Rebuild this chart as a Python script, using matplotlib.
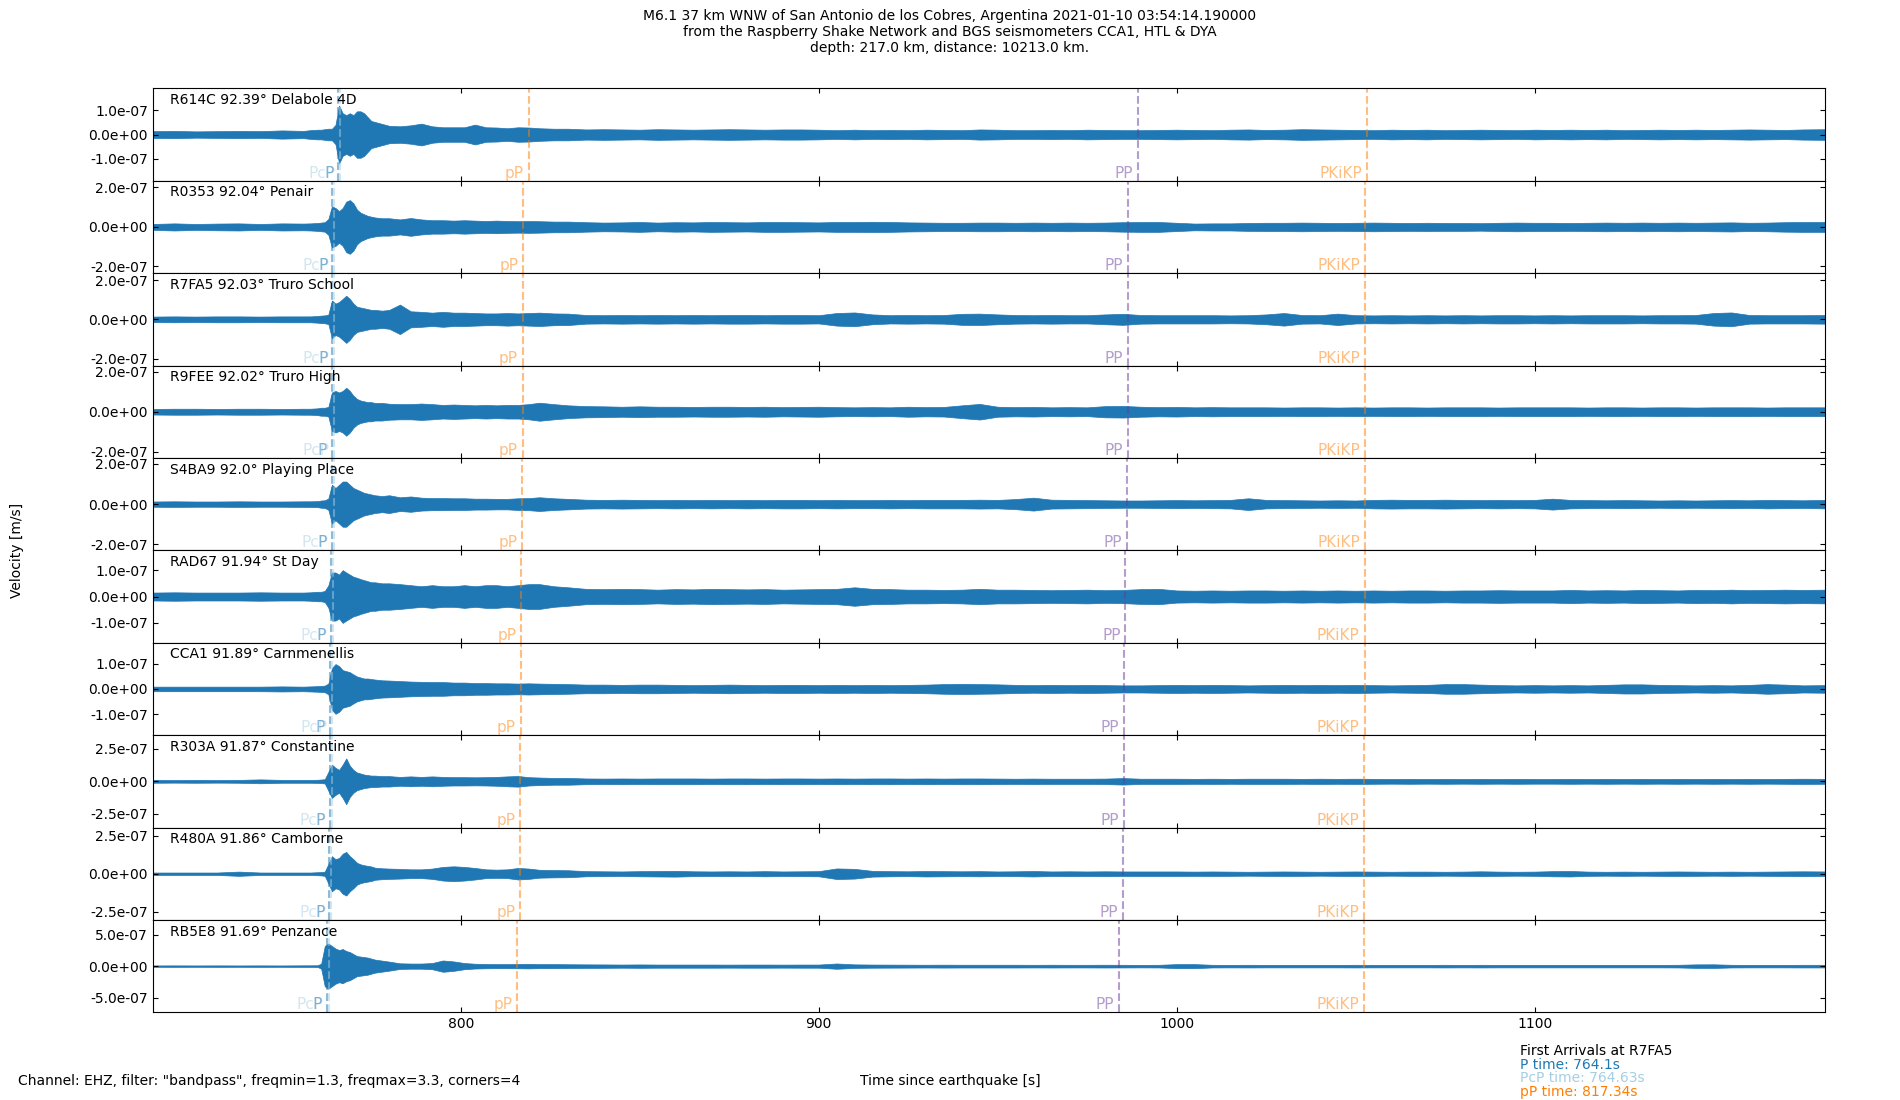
import numpy as np
import matplotlib
matplotlib.use("Agg")
import matplotlib.pyplot as plt
from matplotlib import transforms
from matplotlib.ticker import FormatStrFormatter

# ------------- chart data ------------------------------------------
title = ("M6.1 37 km WNW of San Antonio de los Cobres, Argentina 2021-01-10 03:54:14.190000\n"
         "from the Raspberry Shake Network and BGS seismometers CCA1, HTL & DYA\n"
         "depth: 217.0 km, distance: 10213.0 km.")
footer = 'Channel: EHZ, filter: "bandpass", freqmin=1.3, freqmax=3.3, corners=4'

stations = ["R614C", "R0353", "R7FA5", "R9FEE", "S4BA9",
            "RAD67", "CCA1", "R303A", "R480A", "RB5E8"]
distances = [92.39, 92.04, 92.03, 92.02, 92.0, 91.94, 91.89, 91.87, 91.86, 91.69]
places = ["Delabole 4D", "Penair", "Truro School", "Truro High", "Playing Place",
          "St Day", "Carnmenellis", "Constantine", "Camborne", "Penzance"]

# arrival times [s] per station
p_times = [765.76, 764.15, 764.1, 764.05, 763.96, 763.69, 763.46, 763.36, 763.32, 762.54]
pcp_times = [766.29, 764.68, 764.63, 764.58, 764.49, 764.22, 763.99, 763.89, 763.85, 763.07]
pP_times = [819.0, 817.39, 817.34, 817.29, 817.2, 816.93, 816.7, 816.6, 816.56, 815.78]
PP_times = [989.2, 986.5, 986.4, 986.3, 986.2, 985.7, 985.3, 985.2, 985.1, 983.8]
pkikp_times = [1053.2, 1052.7, 1052.6, 1052.6, 1052.6, 1052.5, 1052.5, 1052.4, 1052.4, 1052.3]

# y limits and tick values, in 1e-7 m/s
ylims = [1.91, 2.34, 2.35, 2.31, 2.29, 1.75, 1.82, 3.55, 3.05, 7.35]
ytick_vals = [1.0, 2.0, 2.0, 2.0, 2.0, 1.0, 1.0, 2.5, 2.5, 5.0]

# sample times [s] of the amplitude envelopes
t_grid = [714, 720, 726, 732, 738, 744, 750, 756,
          758, 760, 761, 762, 763, 764, 765, 766, 767, 768, 769, 770, 771, 772, 773, 774, 775, 776,
          778, 780,
          783, 786, 789, 792, 795, 798, 801, 804, 807, 810, 813, 816, 819, 822,
          826, 830,
          835, 840, 845, 850, 855, 860, 865, 870, 875, 880, 885, 890, 895, 900,
          905, 910, 915, 920, 925, 930, 935, 940, 945, 950, 955, 960, 965, 970, 975, 980, 985, 990, 995, 1000,
          1005, 1010, 1015, 1020, 1025, 1030, 1035, 1040, 1045, 1050, 1055, 1060, 1065, 1070, 1075, 1080,
          1085, 1090, 1095, 1100,
          1105, 1110, 1115, 1120, 1125, 1130, 1135, 1140, 1145, 1150, 1155, 1160, 1165, 1170, 1175, 1181]

# half-width of the dense part of each trace, in 1e-7 m/s
amp_R614C = [0.14, 0.15, 0.13, 0.14, 0.15, 0.14, 0.17, 0.15,
             0.18, 0.2, 0.2, 0.22, 0.24, 0.24, 0.4, 1.2, 0.88, 0.8, 0.88, 0.8, 0.96, 0.96, 0.88, 0.72, 0.56, 0.52,
             0.44, 0.36,
             0.34, 0.38, 0.45, 0.34, 0.3, 0.3, 0.3, 0.41, 0.3, 0.29, 0.26, 0.3, 0.29, 0.26,
             0.24, 0.24,
             0.21, 0.22, 0.21, 0.2, 0.22, 0.21, 0.2, 0.21, 0.22, 0.21, 0.2, 0.21, 0.21, 0.2,
             0.18, 0.2, 0.18, 0.19, 0.18, 0.2, 0.19, 0.18, 0.21, 0.2, 0.18, 0.18, 0.19, 0.18, 0.2, 0.19,
             0.18, 0.18, 0.19, 0.2,
             0.19, 0.18, 0.2, 0.21, 0.19, 0.2, 0.22, 0.21, 0.2, 0.19, 0.18, 0.2, 0.19, 0.2, 0.18, 0.19,
             0.2, 0.19, 0.18, 0.2,
             0.19, 0.2, 0.19, 0.2, 0.18, 0.19, 0.2, 0.19, 0.2, 0.19, 0.2, 0.21, 0.2, 0.19, 0.21, 0.22]
amp_R0353 = [0.15, 0.18, 0.15, 0.17, 0.18, 0.15, 0.18, 0.17,
             0.18, 0.2, 0.22, 0.24, 0.4, 1.04, 0.96, 0.8, 0.96, 1.28, 1.36, 1.2, 0.88, 0.72, 0.64, 0.56, 0.52, 0.48,
             0.44, 0.44,
             0.38, 0.45, 0.38, 0.34, 0.34, 0.32, 0.34, 0.32, 0.3, 0.32, 0.3, 0.29, 0.3, 0.29,
             0.27, 0.27,
             0.24, 0.22, 0.23, 0.25, 0.22, 0.24, 0.23, 0.25, 0.24, 0.23, 0.25, 0.25, 0.24, 0.23,
             0.25, 0.25, 0.26, 0.25, 0.23, 0.22, 0.21, 0.21, 0.22, 0.22, 0.21, 0.22, 0.21, 0.22, 0.21, 0.22,
             0.24, 0.25, 0.25, 0.21,
             0.17, 0.18, 0.18, 0.2, 0.21, 0.21, 0.22, 0.21, 0.2, 0.21, 0.22, 0.21, 0.2, 0.21, 0.2, 0.2,
             0.19, 0.21, 0.22, 0.21,
             0.21, 0.2, 0.21, 0.22, 0.21, 0.22, 0.21, 0.22, 0.21, 0.22, 0.23, 0.21, 0.22, 0.24, 0.25, 0.25]
amp_R7FA5 = [0.14, 0.15, 0.14, 0.15, 0.15, 0.14, 0.15, 0.15,
             0.15, 0.17, 0.19, 0.2, 0.24, 0.96, 0.8, 0.88, 1.04, 1.2, 1.04, 0.8, 0.64, 0.6, 0.56, 0.52, 0.48, 0.48,
             0.44, 0.48,
             0.75, 0.41, 0.38, 0.34, 0.38, 0.34, 0.34, 0.32, 0.3, 0.3, 0.32, 0.3, 0.32, 0.34,
             0.3, 0.29,
             0.22, 0.21, 0.22, 0.21, 0.22, 0.21, 0.22, 0.21, 0.22, 0.22, 0.21, 0.22, 0.22, 0.21,
             0.32, 0.35, 0.25, 0.21, 0.22, 0.21, 0.22, 0.28, 0.29, 0.25, 0.22, 0.21, 0.22, 0.21, 0.21, 0.25,
             0.28, 0.22, 0.21, 0.21,
             0.21, 0.21, 0.2, 0.21, 0.25, 0.32, 0.22, 0.21, 0.29, 0.21, 0.2, 0.21, 0.2, 0.21, 0.2, 0.21,
             0.2, 0.21, 0.21, 0.2,
             0.21, 0.2, 0.21, 0.21, 0.21, 0.2, 0.21, 0.21, 0.22, 0.32, 0.35, 0.22, 0.21, 0.21, 0.21, 0.22]
amp_R9FEE = [0.14, 0.15, 0.15, 0.14, 0.15, 0.15, 0.14, 0.15,
             0.15, 0.17, 0.2, 0.2, 0.24, 0.96, 1.04, 0.96, 1.04, 1.2, 1.04, 0.8, 0.64, 0.56, 0.52, 0.48, 0.48, 0.44,
             0.44, 0.4,
             0.38, 0.38, 0.41, 0.38, 0.34, 0.36, 0.34, 0.32, 0.34, 0.32, 0.34, 0.34, 0.38, 0.45,
             0.38, 0.32,
             0.28, 0.27, 0.25, 0.27, 0.25, 0.25, 0.24, 0.25, 0.25, 0.24, 0.25, 0.23, 0.24, 0.25,
             0.23, 0.22, 0.23, 0.22, 0.25, 0.23, 0.24, 0.32, 0.39, 0.25, 0.23, 0.24, 0.22, 0.23, 0.22, 0.28,
             0.29, 0.25, 0.23, 0.24,
             0.22, 0.23, 0.22, 0.22, 0.22, 0.21, 0.22, 0.22, 0.21, 0.22, 0.21, 0.22, 0.22, 0.21, 0.22, 0.22,
             0.22, 0.21, 0.22, 0.22,
             0.22, 0.22, 0.21, 0.22, 0.22, 0.21, 0.22, 0.22, 0.21, 0.22, 0.22, 0.22, 0.21, 0.22, 0.22, 0.22]
amp_S4BA9 = [0.13, 0.14, 0.13, 0.13, 0.14, 0.13, 0.13, 0.14,
             0.14, 0.15, 0.18, 0.19, 0.28, 0.96, 0.8, 0.96, 1.12, 1.12, 0.96, 0.8, 0.72, 0.64, 0.56, 0.52, 0.48, 0.44,
             0.4, 0.44,
             0.34, 0.38, 0.32, 0.3, 0.3, 0.29, 0.29, 0.27, 0.27, 0.26, 0.26, 0.29, 0.3, 0.34,
             0.29, 0.26,
             0.22, 0.21, 0.22, 0.21, 0.2, 0.21, 0.2, 0.21, 0.2, 0.21, 0.2, 0.21, 0.21, 0.2,
             0.21, 0.2, 0.2, 0.21, 0.2, 0.21, 0.21, 0.21, 0.22, 0.21, 0.25, 0.32, 0.22, 0.21, 0.2, 0.19,
             0.18, 0.18, 0.19, 0.2,
             0.19, 0.2, 0.21, 0.29, 0.21, 0.2, 0.19, 0.18, 0.19, 0.18, 0.21, 0.22, 0.21, 0.21, 0.22, 0.21,
             0.2, 0.21, 0.2, 0.21,
             0.27, 0.21, 0.2, 0.19, 0.2, 0.19, 0.18, 0.19, 0.18, 0.19, 0.2, 0.19, 0.21, 0.2, 0.19, 0.21]
amp_RAD67 = [0.15, 0.16, 0.15, 0.15, 0.15, 0.16, 0.15, 0.15,
             0.16, 0.18, 0.18, 0.21, 0.42, 0.91, 0.91, 0.83, 1.0, 0.91, 0.83, 0.75, 0.71, 0.66, 0.62, 0.58, 0.54, 0.54,
             0.5, 0.5,
             0.47, 0.43, 0.39, 0.43, 0.39, 0.39, 0.43, 0.39, 0.43, 0.43, 0.39, 0.43, 0.47, 0.47,
             0.39, 0.35,
             0.29, 0.28, 0.29, 0.28, 0.26, 0.28, 0.27, 0.29, 0.28, 0.27, 0.28, 0.26, 0.27, 0.28,
             0.29, 0.35, 0.29, 0.28, 0.26, 0.26, 0.25, 0.26, 0.29, 0.26, 0.26, 0.25, 0.24, 0.25, 0.26, 0.24,
             0.25, 0.28, 0.29, 0.23,
             0.22, 0.23, 0.22, 0.23, 0.23, 0.22, 0.23, 0.22, 0.23, 0.22, 0.23, 0.22, 0.23, 0.23, 0.22, 0.23,
             0.23, 0.24, 0.23, 0.23,
             0.23, 0.25, 0.23, 0.24, 0.23, 0.25, 0.24, 0.23, 0.25, 0.24, 0.26, 0.24, 0.25, 0.26, 0.25, 0.26]
amp_CCA1 = [0.09, 0.09, 0.09, 0.09, 0.09, 0.09, 0.1, 0.09,
            0.1, 0.11, 0.12, 0.13, 0.21, 0.82, 0.98, 0.9, 0.74, 0.7, 0.66, 0.57, 0.49, 0.45, 0.41, 0.41, 0.39, 0.37,
            0.34, 0.33,
            0.31, 0.29, 0.28, 0.27, 0.27, 0.25, 0.25, 0.23, 0.23, 0.22, 0.22, 0.21, 0.22, 0.21,
            0.2, 0.19,
            0.17, 0.17, 0.16, 0.17, 0.17, 0.16, 0.15, 0.16, 0.17, 0.16, 0.15, 0.16, 0.16, 0.15,
            0.16, 0.15, 0.16, 0.15, 0.16, 0.17, 0.19, 0.2, 0.19, 0.18, 0.16, 0.15, 0.16, 0.15, 0.16, 0.15,
            0.14, 0.14, 0.15, 0.16,
            0.15, 0.16, 0.15, 0.14, 0.15, 0.16, 0.15, 0.16, 0.15, 0.16, 0.15, 0.14, 0.15, 0.16, 0.19, 0.19,
            0.17, 0.15, 0.14, 0.15,
            0.14, 0.15, 0.14, 0.16, 0.18, 0.18, 0.16, 0.15, 0.14, 0.15, 0.14, 0.16, 0.19, 0.17, 0.14, 0.15]
amp_R303A = [0.11, 0.1, 0.11, 0.1, 0.11, 0.15, 0.11, 0.11,
             0.11, 0.12, 0.14, 0.16, 0.72, 1.28, 1.04, 0.88, 1.28, 1.76, 1.2, 0.88, 0.68, 0.6, 0.52, 0.48, 0.44, 0.44,
             0.4, 0.4,
             0.34, 0.38, 0.34, 0.38, 0.34, 0.32, 0.32, 0.31, 0.32, 0.34, 0.38, 0.41, 0.32, 0.29,
             0.26, 0.26,
             0.22, 0.21, 0.22, 0.21, 0.22, 0.22, 0.22, 0.21, 0.22, 0.22, 0.21, 0.22, 0.22, 0.21,
             0.22, 0.21, 0.22, 0.22, 0.21, 0.22, 0.21, 0.22, 0.22, 0.21, 0.2, 0.21, 0.2, 0.2, 0.2, 0.21,
             0.25, 0.2, 0.2, 0.2,
             0.19, 0.2, 0.19, 0.2, 0.2, 0.2, 0.19, 0.2, 0.19, 0.2, 0.19, 0.18, 0.19, 0.18, 0.19, 0.18,
             0.19, 0.18, 0.19, 0.18,
             0.18, 0.19, 0.18, 0.19, 0.18, 0.19, 0.18, 0.19, 0.18, 0.19, 0.18, 0.19, 0.18, 0.19, 0.2, 0.19]
amp_R480A = [0.08, 0.08, 0.08, 0.08, 0.14, 0.08, 0.08, 0.08,
             0.08, 0.1, 0.11, 0.14, 0.64, 1.16, 0.96, 1.04, 1.32, 1.44, 1.16, 0.96, 0.72, 0.62, 0.56, 0.52, 0.48, 0.4,
             0.36, 0.34,
             0.32, 0.29, 0.29, 0.34, 0.45, 0.49, 0.45, 0.38, 0.29, 0.27, 0.29, 0.38, 0.34, 0.26,
             0.24, 0.23,
             0.17, 0.16, 0.15, 0.17, 0.18, 0.19, 0.16, 0.15, 0.16, 0.15, 0.17, 0.15, 0.16, 0.17,
             0.35, 0.32, 0.19, 0.17, 0.16, 0.18, 0.17, 0.16, 0.17, 0.15, 0.16, 0.18, 0.15, 0.16, 0.15, 0.16,
             0.15, 0.15, 0.15, 0.15,
             0.14, 0.15, 0.14, 0.13, 0.14, 0.15, 0.14, 0.13, 0.14, 0.15, 0.14, 0.13, 0.14, 0.14, 0.13, 0.14,
             0.16, 0.14, 0.13, 0.14,
             0.17, 0.18, 0.14, 0.13, 0.14, 0.13, 0.14, 0.15, 0.14, 0.13, 0.14, 0.13, 0.14, 0.15, 0.16, 0.15]
amp_RB5E8 = [0.11, 0.12, 0.11, 0.12, 0.11, 0.12, 0.11, 0.13,
             0.13, 0.14, 0.4, 3.2, 3.6, 3.2, 2.8, 2.56, 2.72, 2.4, 2.24, 1.92, 1.6, 1.52, 1.44, 1.36, 1.2, 1.04,
             0.88, 0.72,
             0.45, 0.41, 0.41, 0.49, 0.9, 0.75, 0.49, 0.38, 0.34, 0.32, 0.32, 0.34, 0.36, 0.32,
             0.32, 0.3,
             0.28, 0.27, 0.25, 0.27, 0.25, 0.25, 0.25, 0.25, 0.24, 0.25, 0.25, 0.24, 0.25, 0.25,
             0.42, 0.28, 0.25, 0.24, 0.23, 0.22, 0.23, 0.22, 0.22, 0.22, 0.22, 0.21, 0.22, 0.21, 0.21, 0.22,
             0.21, 0.2, 0.21, 0.32,
             0.32, 0.21, 0.2, 0.21, 0.2, 0.2, 0.2, 0.2, 0.2, 0.21, 0.2, 0.2, 0.2, 0.2, 0.21, 0.2,
             0.21, 0.2, 0.2, 0.2,
             0.2, 0.2, 0.2, 0.2, 0.2, 0.2, 0.2, 0.21, 0.28, 0.29, 0.21, 0.2, 0.2, 0.2, 0.21, 0.21]
# -------------------------------------------------------------------

amplitudes = [amp_R614C, amp_R0353, amp_R7FA5, amp_R9FEE, amp_S4BA9,
              amp_RAD67, amp_CCA1, amp_R303A, amp_R480A, amp_RB5E8]

phase_names = ["PcP", "P", "pP", "PP", "PKiKP"]
phase_colours = ["#a6cee3", "#1f78b4", "#ff7f00", "#6a3d9a", "#ff7f00"]
phase_times = [pcp_times, p_times, pP_times, PP_times, pkikp_times]

fig, axes = plt.subplots(len(stations), 1, sharex=True, figsize=(19, 11), dpi=100)
fig.subplots_adjust(left=0.0805, right=0.9603, top=0.9197, bottom=0.0797, hspace=0)

for i, ax in enumerate(axes):
    env = np.array(amplitudes[i]) * 1e-7
    ax.fill_between(t_grid, -env, env, color="#1f77b4", lw=0.5)

    # phase arrivals, label sits at the bottom just left of the line
    trans = transforms.blended_transform_factory(ax.transData, ax.transAxes)
    label_trans = transforms.offset_copy(trans, fig=fig, x=-3.5, y=0, units="points")
    for name, colour, times in zip(phase_names, phase_colours, phase_times):
        ax.axvline(times[i], color=colour, ls="--", lw=1.5, alpha=0.5)
        ax.text(times[i], 0.0, name, color=colour, alpha=0.5, fontsize=11,
                ha="right", va="bottom", transform=label_trans)

    ax.text(0.01, 0.95, f"{stations[i]} {distances[i]}° {places[i]}",
            transform=ax.transAxes, va="top", ha="left", fontsize=10)

    ax.set_ylim(-ylims[i] * 1e-7, ylims[i] * 1e-7)
    ax.set_yticks([-ytick_vals[i] * 1e-7, 0, ytick_vals[i] * 1e-7])
    ax.yaxis.set_major_formatter(FormatStrFormatter("%.1e"))
    ax.tick_params(direction="in", top=True, right=True, labelsize=10)

axes[-1].set_xlim(714, 1181)

fig.text(0.5, 0.992, title, ha="center", va="top", fontsize=10)
fig.text(0.0096, 0.0175, footer, ha="left", va="center", fontsize=10)
fig.text(0.5, 0.0175, "Time since earthquake [s]", ha="center", va="center", fontsize=10)
fig.text(0.009, 0.5, "Velocity [m/s]", rotation=90, ha="center", va="center", fontsize=10)

fig.text(0.8, 0.0448, "First Arrivals at R7FA5", va="center", fontsize=10)
fig.text(0.8, 0.0318, f"P time: {p_times[2]}s", color="#1f78b4", va="center", fontsize=10)
fig.text(0.8, 0.0197, f"PcP time: {pcp_times[2]}s", color="#a6cee3", va="center", fontsize=10)
fig.text(0.8, 0.0070, f"pP time: {pP_times[2]}s", color="#ff7f00", va="center", fontsize=10)

fig.savefig("out.png", dpi=100)
